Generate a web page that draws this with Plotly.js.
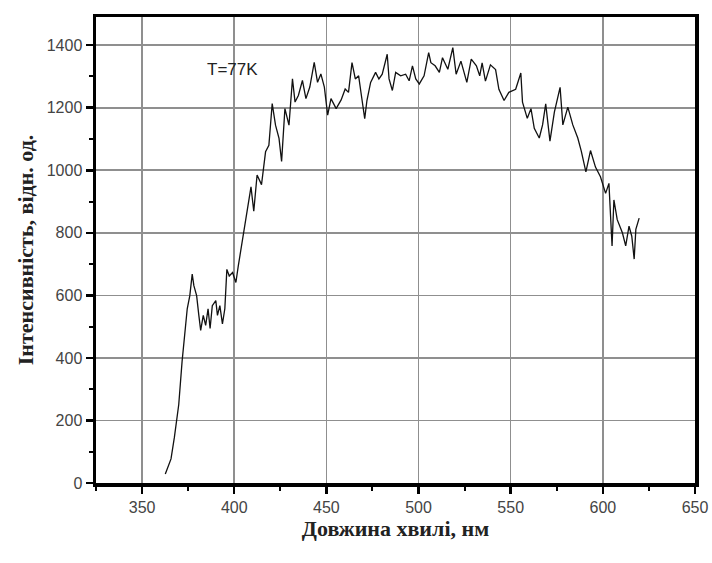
<!DOCTYPE html>
<html>
<head>
<meta charset="utf-8">
<script src="https://cdn.plot.ly/plotly-3.0.1.min.js"></script>
<style>html,body{margin:0;padding:0;background:#fff;}#chart{width:712px;height:563px;}</style>
</head>
<body>
<div id="chart"></div>
<script>
const wavelength = [362.6,364.4,365.7,367.5,369.9,371.7,373.0,374.5,375.9,377.2,378.1,379.6,380.8,381.8,383.2,384.5,385.8,386.9,388.1,390.0,390.9,392.2,393.6,394.9,396.0,397.3,399.1,400.9,402.2,403.6,405.5,407.7,409.1,410.6,412.4,414.8,417.0,418.8,420.6,422.4,424.3,425.7,427.5,429.7,431.6,433.0,434.8,437.0,438.9,441.0,443.4,445.2,447.0,448.9,450.7,452.5,455.3,458.0,460.2,462.0,463.9,465.7,467.5,469.0,470.8,472.0,474.0,476.7,478.5,480.3,483.0,484.0,485.8,487.6,490.3,493.0,494.9,496.7,498.5,500.4,503.0,505.5,506.7,509.0,511.3,513.0,515.9,518.6,520.4,523.0,526.2,528.6,531.4,533.2,534.5,536.3,539.0,541.8,543.6,546.4,549.0,552.7,555.5,556.4,559.0,561.0,562.8,565.5,567.3,569.0,571.3,573.7,576.8,578.3,581.0,583.7,586.4,588.3,590.8,593.3,596.0,598.7,601.5,603.3,605.0,606.0,607.8,610.6,612.4,614.2,615.7,617.0,617.9,619.7];
const intensity = [29,61,77,145,251,388,472,557,599,668,631,599,536,488,536,504,557,494,567,583,536,567,509,557,683,662,673,641,694,747,810,900,947,869,985,954,1059,1080,1213,1144,1102,1028,1197,1144,1292,1218,1239,1287,1229,1266,1345,1281,1308,1266,1176,1229,1197,1225,1260,1249,1344,1292,1302,1239,1165,1223,1281,1313,1292,1307,1371,1292,1255,1313,1302,1307,1286,1334,1292,1276,1302,1376,1344,1334,1313,1360,1323,1392,1307,1349,1281,1355,1334,1302,1343,1285,1337,1322,1259,1223,1249,1259,1311,1218,1166,1197,1134,1103,1145,1212,1093,1186,1265,1145,1202,1145,1103,1061,995,1063,1010,979,926,958,758,905,842,800,758,821,789,716,811,847];
const xTickVals = [350,400,450,500,550,600,650];
const yTickVals = [0,200,400,600,800,1000,1200,1400];
const label = "T=77K";

const trace = {
  x: wavelength, y: intensity, type: 'scatter', mode: 'lines',
  line: {color: '#111', width: 1.3}, hoverinfo: 'skip'
};
const axisCommon = {
  showline: true, linecolor: '#000', linewidth: 3.5, mirror: true,
  showgrid: true, gridcolor: '#8f8f8f', gridwidth: 1.6,
  ticks: 'outside', ticklen: 7, tickwidth: 2.5, tickcolor: '#000',
  tickfont: {family: 'Liberation Sans, Arial, sans-serif', size: 16, color: '#444'},
  zeroline: false, automargin: false,
  minor: {ticks: 'outside', ticklen: 4, tickwidth: 2, tickcolor: '#000', showgrid: false}
};
const layout = {
  width: 712, height: 563,
  margin: {l: 96, r: 17, t: 17, b: 80},
  paper_bgcolor: '#fff', plot_bgcolor: '#fff',
  showlegend: false,
  xaxis: Object.assign({}, axisCommon, {
    range: [325, 650], tickvals: xTickVals,
    minor: Object.assign({}, axisCommon.minor, {dtick: 25, tick0: 325}),
    title: {text: 'Довжина хвилі, нм', standoff: 1,
      font: {family: 'Liberation Serif, Times New Roman, serif', size: 22, color: '#222', weight: 'bold'}}
  }),
  yaxis: Object.assign({}, axisCommon, {
    range: [0, 1490], tickvals: yTickVals,
    minor: Object.assign({}, axisCommon.minor, {dtick: 100, tick0: 0}),
    title: {text: 'Інтенсивність, відн. од.', standoff: 8,
      font: {family: 'Liberation Serif, Times New Roman, serif', size: 22, color: '#222', weight: 'bold'}}
  }),
  annotations: [{
    x: 398.8, y: 1322, xref: 'x', yref: 'y', text: label, showarrow: false,
    font: {family: 'Liberation Sans, Arial, sans-serif', size: 17, color: '#222'}
  }]
};
Plotly.newPlot('chart', [trace], layout, {displayModeBar: false, staticPlot: true});
</script>
</body>
</html>
